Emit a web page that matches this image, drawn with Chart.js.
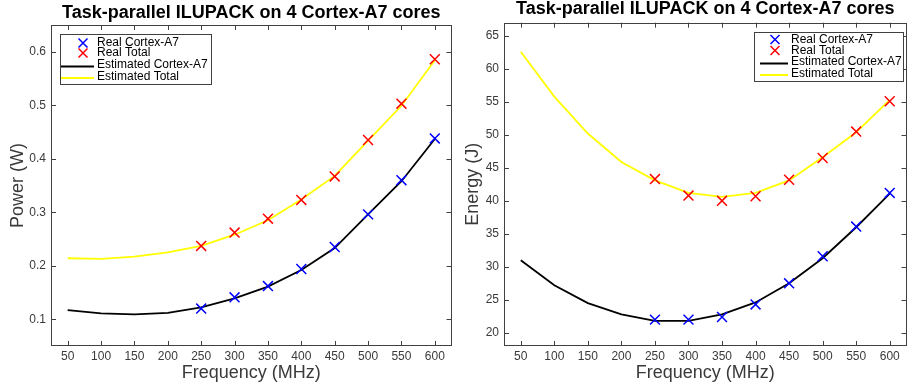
<!DOCTYPE html>
<html>
<head>
<meta charset="utf-8">
<script src="https://cdn.jsdelivr.net/npm/chart.js@4.4.0/dist/chart.umd.min.js"></script>
<style>
  html, body { margin: 0; padding: 0; background: #fff; }
  body { position: relative; width: 909px; height: 386px; overflow: hidden; }
  canvas { position: absolute; top: 0; }
  #power-chart { left: 0; }
  #energy-chart { left: 455px; }
</style>
</head>
<body>
<canvas id="power-chart" width="460" height="386"></canvas>
<canvas id="energy-chart" width="460" height="386"></canvas>
<script>
// frequencies (MHz)
const freqEstimated = [50, 100, 150, 200, 250, 300, 350, 400, 450, 500, 550, 600];
const freqReal = [250, 300, 350, 400, 450, 500, 550, 600];
const freqTicks = [50, 100, 150, 200, 250, 300, 350, 400, 450, 500, 550, 600];

// power (W)
const powerRealA7 = [0.120, 0.141, 0.162, 0.194, 0.235, 0.296, 0.360, 0.438];
const powerRealTotal = [0.237, 0.262, 0.288, 0.323, 0.367, 0.435, 0.503, 0.586];
const powerEstA7 = [0.117, 0.111, 0.109, 0.112, 0.122, 0.139, 0.161, 0.192, 0.233, 0.296, 0.358, 0.437];
const powerEstTotal = [0.214, 0.213, 0.217, 0.225, 0.237, 0.258, 0.285, 0.324, 0.368, 0.434, 0.499, 0.584];
const powerTicks = [0.1, 0.2, 0.3, 0.4, 0.5, 0.6];

// energy (J)
const energyRealA7 = [22.0, 22.0, 22.4, 24.3, 27.5, 31.6, 36.1, 41.2];
const energyRealTotal = [43.3, 40.8, 40.0, 40.7, 43.2, 46.5, 50.5, 55.1];
const energyEstA7 = [31.0, 27.2, 24.5, 22.8, 21.8, 21.8, 22.8, 24.6, 27.5, 31.3, 36.0, 41.1];
const energyEstTotal = [62.6, 55.8, 50.2, 45.9, 43.1, 41.2, 40.6, 41.2, 43.1, 46.6, 50.4, 55.3];
const energyTicks = [20, 25, 30, 35, 40, 45, 50, 55, 60, 65];

const seriesNames = ['Real Cortex-A7', 'Real Total', 'Estimated Cortex-A7', 'Estimated Total'];
const seriesColors = ['#0000ff', '#ff0000', '#000000', '#ffff00'];

const FONT = '"Liberation Sans", Arial, Helvetica, sans-serif';
const AXIS_COLOR = '#404040';
const TEXT_COLOR = '#3a3a3a';

const toPoints = (xs, ys) => xs.map((x, i) => ({ x: x, y: ys[i] }));

// box around the plot with inward ticks on all four sides
const boxPlugin = {
  id: 'matlabBox',
  afterDraw(chart) {
    const { ctx, chartArea: a, scales } = chart;
    ctx.save();
    ctx.strokeStyle = AXIS_COLOR;
    ctx.lineWidth = 1;
    ctx.beginPath();
    scales.x.ticks.forEach((t) => {
      const px = Math.round(scales.x.getPixelForValue(t.value)) + 0.5;
      ctx.moveTo(px, a.bottom);
      ctx.lineTo(px, a.bottom - 5);
      ctx.moveTo(px, a.top);
      ctx.lineTo(px, a.top + 5);
    });
    scales.y.ticks.forEach((t) => {
      const py = Math.round(scales.y.getPixelForValue(t.value)) + 0.5;
      ctx.moveTo(a.left, py);
      ctx.lineTo(a.left + 5, py);
      ctx.moveTo(a.right, py);
      ctx.lineTo(a.right - 5, py);
    });
    ctx.stroke();
    ctx.strokeRect(Math.round(a.left) + 0.5, Math.round(a.top) + 0.5,
      Math.round(a.right - a.left) - 1, Math.round(a.bottom - a.top) - 1);
    ctx.restore();
  }
};

// legend drawn inside the plot, like the MATLAB one
const legendPlugin = {
  id: 'insideLegend',
  afterDraw(chart, args, opts) {
    const ctx = chart.ctx;
    ctx.save();
    ctx.fillStyle = '#fff';
    ctx.fillRect(opts.left, opts.top, opts.width, opts.height);
    ctx.strokeStyle = AXIS_COLOR;
    ctx.lineWidth = 1;
    ctx.strokeRect(opts.left + 0.5, opts.top + 0.5, opts.width, opts.height);
    ctx.font = '12px ' + FONT;
    ctx.textBaseline = 'middle';
    ctx.textAlign = 'left';
    seriesNames.forEach((name, i) => {
      const y = opts.rows[i];
      ctx.strokeStyle = seriesColors[i];
      ctx.lineWidth = i < 2 ? 1.5 : 2;
      ctx.beginPath();
      if (i < 2) {
        const r = 4.5;
        ctx.moveTo(opts.markerX - r, y - r);
        ctx.lineTo(opts.markerX + r, y + r);
        ctx.moveTo(opts.markerX - r, y + r);
        ctx.lineTo(opts.markerX + r, y - r);
      } else {
        ctx.moveTo(opts.lineFrom, y + 1.5);
        ctx.lineTo(opts.lineTo, y + 1.5);
      }
      ctx.stroke();
      ctx.fillStyle = '#000';
      ctx.fillText(name, opts.textX, y);
    });
    ctx.restore();
  }
};

const makeDatasets = (realA7, realTotal, estA7, estTotal) => [
  {
    label: seriesNames[0], data: toPoints(freqReal, realA7), showLine: false,
    pointStyle: 'crossRot', pointRadius: 7, pointBorderWidth: 1.5, borderColor: seriesColors[0]
  },
  {
    label: seriesNames[1], data: toPoints(freqReal, realTotal), showLine: false,
    pointStyle: 'crossRot', pointRadius: 7, pointBorderWidth: 1.5, borderColor: seriesColors[1]
  },
  {
    label: seriesNames[2], data: toPoints(freqEstimated, estA7), pointRadius: 0,
    borderWidth: 1.8, borderColor: seriesColors[2], tension: 0
  },
  {
    label: seriesNames[3], data: toPoints(freqEstimated, estTotal), pointRadius: 0,
    borderWidth: 1.8, borderColor: seriesColors[3], tension: 0
  }
];

const makeChart = (canvasId, cfg) => new Chart(document.getElementById(canvasId), {
  type: 'line',
  data: { datasets: cfg.datasets },
  options: {
    responsive: false,
    animation: false,
    layout: { padding: { left: 0, right: cfg.padRight, top: 0, bottom: 0 } },
    plugins: {
      legend: { display: false },
      tooltip: { enabled: false },
      title: {
        display: true,
        text: 'Task-parallel ILUPACK on 4 Cortex-A7 cores',
        fullSize: false,
        color: '#000',
        font: { family: FONT, size: 18, weight: 'bold', lineHeight: 1 },
        padding: cfg.titlePadding
      },
      insideLegend: cfg.legend
    },
    scales: {
      x: {
        type: 'linear',
        min: 25,
        max: 625,
        afterBuildTicks: (scale) => { scale.ticks = freqTicks.map(v => ({ value: v })); },
        afterFit: (scale) => { scale.height = 40; },
        grid: { display: false, drawTicks: false },
        border: { display: false },
        ticks: { color: TEXT_COLOR, padding: 3, font: { family: FONT, size: 12 } },
        title: {
          display: true, text: 'Frequency (MHz)', color: TEXT_COLOR,
          font: { family: FONT, size: 18 }, padding: { top: 0, bottom: 2.5 }
        }
      },
      y: {
        type: 'linear',
        min: cfg.yMin,
        max: cfg.yMax,
        afterBuildTicks: (scale) => { scale.ticks = cfg.yTicks.map(v => ({ value: v })); },
        afterFit: (scale) => { scale.width = cfg.yWidth; },
        grid: { display: false, drawTicks: false },
        border: { display: false },
        ticks: { color: TEXT_COLOR, padding: 5, font: { family: FONT, size: 12 } },
        title: {
          display: true, text: cfg.yTitle, color: TEXT_COLOR,
          font: { family: FONT, size: 18 }, padding: { top: 7, bottom: 0 }
        }
      }
    }
  },
  plugins: [boxPlugin, legendPlugin]
});

makeChart('power-chart', {
  datasets: makeDatasets(powerRealA7, powerRealTotal, powerEstA7, powerEstTotal),
  padRight: 3,
  titlePadding: { top: 4, bottom: 3 },
  yMin: 0.05, yMax: 0.65, yTicks: powerTicks, yWidth: 51,
  yTitle: 'Power (W)',
  legend: { left: 60, top: 34, width: 151, height: 50, rows: [43, 53, 65, 76.5], markerX: 83, lineFrom: 61, lineTo: 94, textX: 97 }
});

makeChart('energy-chart', {
  datasets: makeDatasets(energyRealA7, energyRealTotal, energyEstA7, energyEstTotal),
  padRight: 3,
  titlePadding: { top: 0, bottom: 4.7 },
  yMin: 18, yMax: 67, yTicks: energyTicks, yWidth: 49,
  yTitle: 'Energy (J)',
  legend: { left: 299, top: 32, width: 149, height: 49, rows: [39.5, 50.5, 62, 73.5], markerX: 320, lineFrom: 305, lineTo: 333, textX: 336 }
});
</script>
</body>
</html>
